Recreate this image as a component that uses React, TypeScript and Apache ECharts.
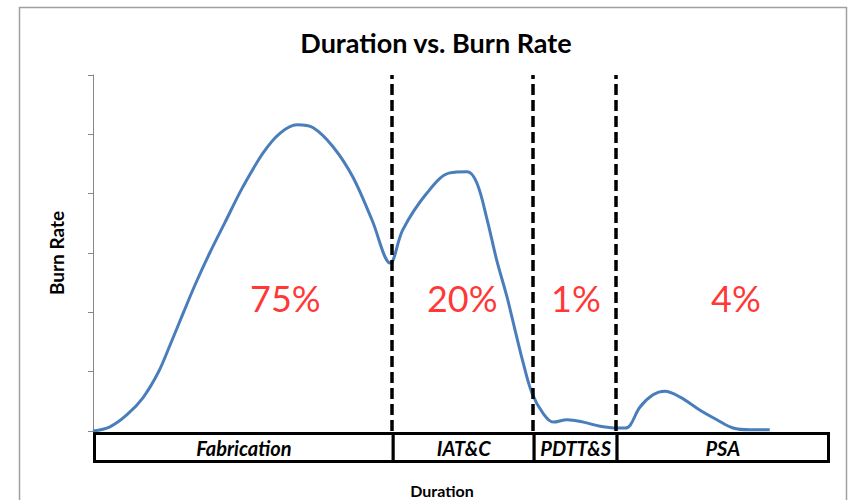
import React, { useEffect, useRef } from "react";
import * as echarts from "echarts";

// Duration (0–100 units along the time line) and burn rate (0–6 axis units)
const durationPoints = [0, 2.3, 4.6, 6.8, 8.9, 10.5, 12.3, 14.0, 15.9, 18.0, 20.4, 23.2, 25.5, 27.8, 30.0, 32.7, 35.4, 38.0, 40.5, 42.2, 45.5, 48.6, 51.0, 52.3, 53.7, 55.0, 56.4, 57.5, 58.5, 59.8, 61.3, 62.7, 64.6, 66.8, 69.1, 71.4, 72.5, 73.2, 74.5, 76.3, 77.9, 80.0, 82.7, 85.0, 87.2, 89.5, 92.2];
const burnRate = [0, 0.07, 0.27, 0.56, 0.99, 1.45, 1.99, 2.49, 3.0, 3.52, 4.11, 4.69, 5.02, 5.16, 5.11, 4.79, 4.28, 3.56, 2.83, 3.39, 4.01, 4.35, 4.37, 4.18, 3.56, 2.88, 2.26, 1.7, 1.2, 0.64, 0.3, 0.15, 0.19, 0.15, 0.08, 0.05, 0.05, 0.1, 0.4, 0.61, 0.67, 0.57, 0.35, 0.19, 0.05, 0.02, 0.02];

const phaseNames = ["Fabrication", "IAT&C", "PDTT&S", "PSA"];
const phaseStarts = [0, 40.7, 59.9, 71.2];
const phaseEnds = [40.7, 59.9, 71.2, 100];
const phaseBoundaries = [40.7, 59.9, 71.2];

const shareLabels = ["75%", "20%", "1%", "4%"];
const shareX = [26.2, 50.3, 65.8, 87.6];
const shareY = [2.24, 2.24, 2.24, 2.24];

const yTicks = [0, 1, 2, 3, 4, 5, 6];

const FONT = "Lato, 'Noto Sans', sans-serif";

export default function App() {
  const ref = useRef<HTMLDivElement>(null);

  useEffect(() => {
    if (!ref.current) return;
    const chart = echarts.init(ref.current, null, { renderer: "svg" });

    const lineData = durationPoints.map((d, i) => [d, burnRate[i]]);
    const boxData = phaseNames.map((n, i) => ({ name: n, value: [phaseStarts[i], phaseEnds[i]] }));
    const shareData = shareLabels.map((s, i) => ({ name: s, value: [shareX[i], shareY[i]] }));

    chart.setOption({
      animation: false,
      backgroundColor: "#ffffff",
      title: {
        text: "Duration vs. Burn Rate",
        left: 431,
        top: 24,
        textAlign: "center",
        textStyle: { fontFamily: FONT, fontWeight: "bold", fontSize: 27, color: "#000" },
      },
      graphic: [
        {
          type: "rect",
          shape: { x: 19.5, y: 7.5, width: 827, height: 520 },
          style: { fill: "none", stroke: "#a0a0a0", lineWidth: 1.5 },
          silent: true,
          z: -10,
        },
      ],
      grid: [
        { left: 93, right: 21, top: 75, bottom: 69 },
        { left: 93, right: 21, top: 432, height: 31 },
      ],
      xAxis: [
        { type: "value", gridIndex: 0, min: 0, max: 100, show: false },
        {
          type: "value",
          gridIndex: 1,
          min: 0,
          max: 100,
          axisLine: { show: false },
          axisTick: { show: false },
          axisLabel: { show: false },
          splitLine: { show: false },
          name: "Duration",
          nameLocation: "middle",
          nameGap: 19,
          nameTextStyle: {
            fontFamily: FONT,
            fontWeight: "bold",
            fontSize: 16,
            color: "#000",
            padding: [0, 36, 0, 0],
          },
        },
      ],
      yAxis: [
        {
          type: "value",
          gridIndex: 0,
          min: yTicks[0],
          max: yTicks[yTicks.length - 1],
          interval: 1,
          axisLine: { show: true, lineStyle: { color: "#868686", width: 1 } },
          axisTick: { show: true, length: 5, lineStyle: { color: "#868686" } },
          axisLabel: { show: false },
          splitLine: { show: false },
          name: "Burn Rate",
          nameLocation: "middle",
          nameGap: 27,
          nameTextStyle: { fontFamily: FONT, fontWeight: "bold", fontSize: 19, color: "#000" },
        },
        { type: "value", gridIndex: 1, min: 0, max: 1, show: false },
      ],
      series: [
        {
          type: "line",
          xAxisIndex: 0,
          yAxisIndex: 0,
          data: lineData,
          smooth: 0.35,
          showSymbol: false,
          symbol: "none",
          lineStyle: { color: "#4A7EBB", width: 3 },
          z: 2,
          markLine: {
            silent: true,
            symbol: ["none", "none"],
            label: { show: false },
            lineStyle: { color: "#000", width: 3.5, type: [11, 5] },
            data: phaseBoundaries.map((b) => ({ xAxis: b })),
            z: 3,
          },
        },
        {
          type: "scatter",
          xAxisIndex: 0,
          yAxisIndex: 0,
          data: shareData,
          symbolSize: 1,
          itemStyle: { color: "rgba(0,0,0,0)" },
          label: {
            show: true,
            position: "inside",
            formatter: (p: any) => p.name,
            fontFamily: FONT,
            fontSize: 36,
            color: "#FF0000",
          },
          z: 4,
        },
        {
          type: "custom",
          xAxisIndex: 1,
          yAxisIndex: 1,
          data: boxData,
          renderItem: (params: any, api: any) => {
            const s = api.value(0);
            const e = api.value(1);
            const p0 = api.coord([s, 1]);
            const p1 = api.coord([e, 0]);
            const name = phaseNames[params.dataIndex];
            return {
              type: "group",
              children: [
                {
                  type: "rect",
                  shape: { x: p0[0] + 1.5, y: p0[1] + 1.5, width: p1[0] - p0[0], height: p1[1] - p0[1] - 3 },
                  style: { fill: "#fff", stroke: "#000", lineWidth: 3 },
                },
                {
                  type: "text",
                  x: (p0[0] + p1[0]) / 2 + 1.5,
                  y: (p0[1] + p1[1]) / 2 + 0.5,
                  style: {
                    text: name,
                    font: "italic bold 20px " + FONT,
                    fill: "#000",
                    textAlign: "center",
                    textVerticalAlign: "middle",
                  },
                },
              ],
            };
          },
        },
      ],
    });

    return () => chart.dispose();
  }, []);

  return (
    <div
      ref={ref}
      style={{ position: "fixed", left: 0, top: 0, width: 848, height: 500, background: "#fff" }}
    />
  );
}
